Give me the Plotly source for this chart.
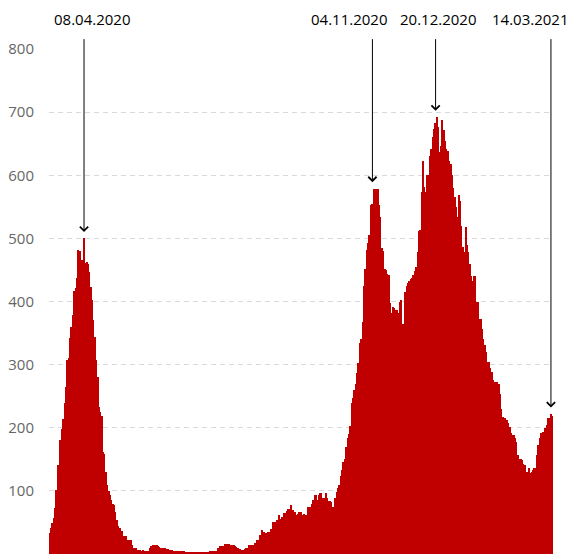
import pandas as pd
import plotly.graph_objects as go

START_DATE = "2020-03-14"

# daily values, split by period
wave1 = [33, 41, 49, 57, 73, 101, 141, 141, 181, 198,
         214, 240, 265, 307, 310, 342, 360, 379, 416, 421,
         437, 482, 480, 460, 466, 500, 461, 463, 460, 447,
         423, 402, 371, 344, 307, 281, 233, 225, 218, 162,
         159, 130, 110, 100, 93]
tail1 = [85, 80, 78, 67, 54, 45, 41, 36, 36, 28,
         28, 28, 22, 22, 22, 14, 9, 9, 9, 6,
         6, 7, 5, 7, 5, 5, 5, 4]
summer = [10, 12, 14, 15, 15, 14, 12, 11, 10, 9,
          9, 9, 8, 8, 7, 7, 6, 5, 5, 5,
          5, 4, 5, 4, 4, 4, 3, 3, 3, 3,
          2, 3, 2, 3, 2, 2, 3, 2, 2, 3,
          2, 1, 3, 3, 4, 4, 4, 4, 5, 5]
late_summer = [10, 12, 12, 13, 13, 16, 16, 16, 16, 15,
               15, 15, 12, 11, 10, 8, 8, 7, 7, 8,
               9, 9]
autumn = [14, 14, 15, 15, 15,
          17, 22, 22, 30, 30, 38, 35, 33, 33, 35,
          35, 40, 40, 51, 51, 51, 54, 62, 56, 59,
          59, 65, 65, 68, 72, 72, 78, 69, 67, 67,
          62, 64, 66, 66, 62, 64, 62, 62, 75, 75,
          75, 80, 86, 93, 93, 86, 93, 96, 96, 88,
          88, 96, 88, 84, 84, 83, 75, 75, 88]
wave2 = [99, 105, 110, 123, 133, 145, 151, 170, 183, 190,
         202, 239, 247, 260, 270, 286, 302, 334, 340, 368,
         424, 452, 481, 492, 505, 553, 555, 579, 577, 578,
         578, 553, 534, 484, 480, 452, 450, 444, 442, 397,
         381, 392, 389, 387, 387, 381, 400, 403, 365, 365,
         415, 425, 430, 432, 435, 438, 442, 448, 455, 478,
         511]
wave3 = [513, 573, 623, 581, 573, 600, 600, 631, 642, 660,
         674, 682, 692, 676, 637, 647, 687, 671, 655, 642,
         639, 623, 618, 600, 580, 565, 550, 534, 568, 560,
         520, 486, 478, 518, 489, 478, 460, 441, 433, 441,
         441, 399, 399, 373, 373, 357, 341, 331, 320, 304,
         304, 294, 288, 275, 272, 272, 272, 270, 254, 230,
         217, 215, 215, 212, 207, 201, 191, 188, 188, 183,
         178, 157, 151, 151, 149, 143, 141, 130, 130, 136,
         128, 130, 133, 136, 136, 157, 173, 183, 191, 193,
         193, 199, 204, 215, 215, 222, 219]

values = wave1 + tail1 + summer + late_summer + autumn + wave2 + wave3
dates = pd.date_range(START_DATE, periods=len(values), freq="D")

marker_dates = ["2020-04-08", "2020-11-04", "2020-12-20", "2021-03-14"]
marker_labels = ["08.04.2020", "04.11.2020", "20.12.2020", "14.03.2021"]
label_x = [0.0873, 0.5972, 0.7725, 0.9556]

y_ticks = [0, 100, 200, 300, 400, 500, 600, 700, 800]

series = pd.Series(values, index=dates)

fig = go.Figure()
fig.add_trace(go.Bar(
    x=dates, y=values,
    marker=dict(color="#c00000", line=dict(width=0)),
    hoverinfo="x+y",
))

for d, lab, lx in zip(marker_dates, marker_labels, label_x):
    ts = pd.Timestamp(d)
    window = series[ts - pd.Timedelta(days=2): ts + pd.Timedelta(days=2)]
    tip = window.max() + 10
    fig.add_annotation(
        x=d, y=tip, xref="x", yref="y",
        ax=d, ay=818, axref="x", ayref="y",
        text="", showarrow=True,
        arrowhead=4, arrowsize=1.6, arrowwidth=1, arrowcolor="#000000",
    )
    fig.add_annotation(
        x=lx, y=1.0594, xref="paper", yref="paper",
        text=lab, showarrow=False, xanchor="center", yanchor="middle",
        font=dict(family="Open Sans", size=15, color="#000000"),
    )

x0 = dates[0] - pd.Timedelta(hours=12)
x1 = dates[-1] + pd.Timedelta(hours=12)

fig.update_layout(
    width=570, height=558,
    margin=dict(l=49, r=17, t=49, b=4),
    paper_bgcolor="white", plot_bgcolor="white",
    bargap=0, showlegend=False,
    font=dict(family="Open Sans", size=15, color="#666666"),
    xaxis=dict(visible=False, range=[x0, x1], type="date"),
    yaxis=dict(
        range=[0, 800], tickvals=y_ticks, automargin=False,
        showgrid=True, gridcolor="#d9d9d9", griddash="5px,4px", gridwidth=1,
        zeroline=False, showline=False,
        ticks="outside", ticklen=11, tickcolor="rgba(0,0,0,0)",
        tickfont=dict(family="Open Sans", size=15, color="#666666"),
    ),
)

fig.write_html("out.html",
               config={"displayModeBar": False},
               post_script="document.body.style.margin='0px';document.body.style.overflow='hidden';")
